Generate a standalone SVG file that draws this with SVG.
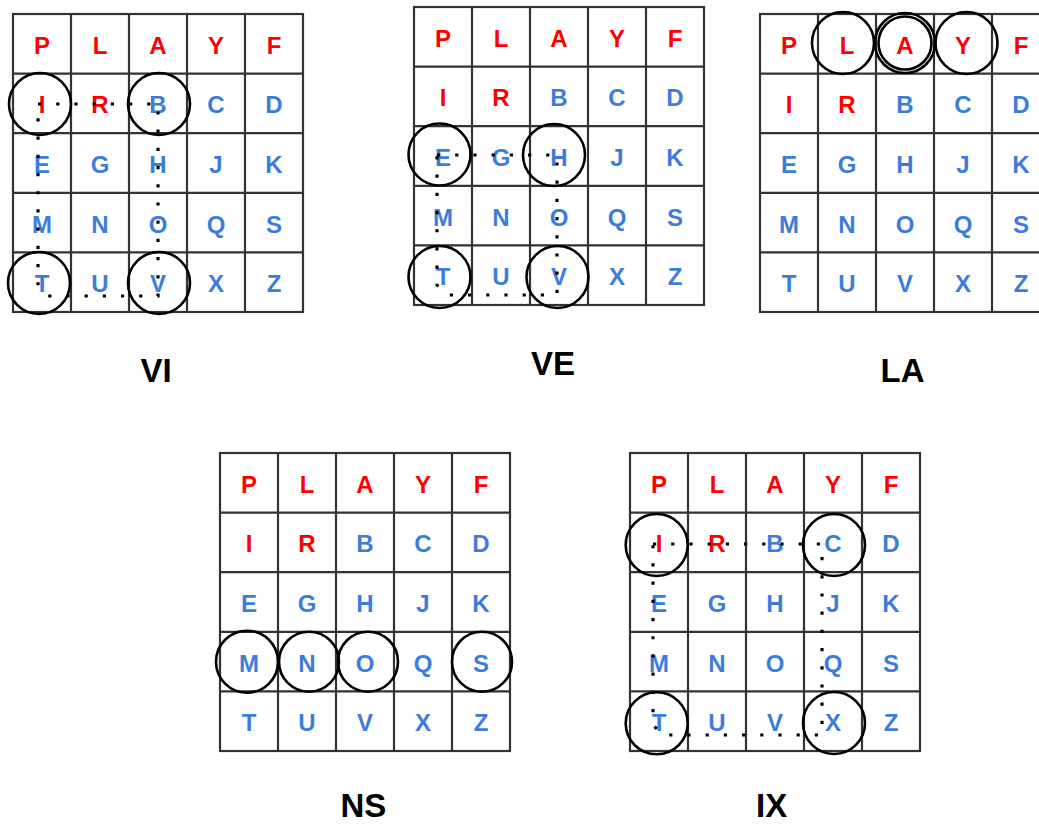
<svg xmlns="http://www.w3.org/2000/svg" width="1039" height="825" viewBox="0 0 1039 825">
<style>
.cell{fill:#fff;stroke:#333;stroke-width:2.2}
.l{font-family:"Liberation Sans",Arial,sans-serif;font-weight:bold;font-size:24px;text-anchor:middle}
.r{fill:#ff0000}
.b{fill:#3c7ddc}
.c{fill:none;stroke:#000;stroke-width:2.6}
.dot{fill:none;stroke:#000;stroke-width:3.2;stroke-dasharray:3.2 15}
.lab{font-family:"Liberation Sans",Arial,sans-serif;font-weight:bold;font-size:33px;text-anchor:middle;fill:#000}
</style>
<defs>
<g id="gridlines">
<rect class="cell" x="0" y="0" width="290" height="298"/>
<path class="cell" d="M58,0V298M116,0V298M174,0V298M232,0V298M0,59.6H290M0,119.2H290M0,178.8H290M0,238.4H290"/>
</g>
</defs>
<rect width="1039" height="825" fill="#fff"/>

<g id="grid-VI" transform="translate(13,14)">
<use href="#gridlines"/>
<g class="l">
<text class="r" x="29" y="39.8">P</text><text class="r" x="87" y="39.8">L</text><text class="r" x="145" y="39.8">A</text><text class="r" x="203" y="39.8">Y</text><text class="r" x="261" y="39.8">F</text>
<text class="r" x="29" y="99.4">I</text><text class="r" x="87" y="99.4">R</text><text class="b" x="145" y="99.4">B</text><text class="b" x="203" y="99.4">C</text><text class="b" x="261" y="99.4">D</text>
<text class="b" x="29" y="159">E</text><text class="b" x="87" y="159">G</text><text class="b" x="145" y="159">H</text><text class="b" x="203" y="159">J</text><text class="b" x="261" y="159">K</text>
<text class="b" x="29" y="218.6">M</text><text class="b" x="87" y="218.6">N</text><text class="b" x="145" y="218.6">O</text><text class="b" x="203" y="218.6">Q</text><text class="b" x="261" y="218.6">S</text>
<text class="b" x="29" y="278.2">T</text><text class="b" x="87" y="278.2">U</text><text class="b" x="145" y="278.2">V</text><text class="b" x="203" y="278.2">X</text><text class="b" x="261" y="278.2">Z</text>
</g>
<circle class="c" cx="27" cy="90" r="31"/>
<circle class="c" cx="146" cy="90" r="31"/>
<circle class="c" cx="26" cy="269" r="31"/>
<circle class="c" cx="146" cy="269" r="31"/>
</g>

<g id="grid-VE" transform="translate(414,7)">
<use href="#gridlines"/>
<g class="l">
<text class="r" x="29" y="39.8">P</text><text class="r" x="87" y="39.8">L</text><text class="r" x="145" y="39.8">A</text><text class="r" x="203" y="39.8">Y</text><text class="r" x="261" y="39.8">F</text>
<text class="r" x="29" y="99.4">I</text><text class="r" x="87" y="99.4">R</text><text class="b" x="145" y="99.4">B</text><text class="b" x="203" y="99.4">C</text><text class="b" x="261" y="99.4">D</text>
<text class="b" x="29" y="159">E</text><text class="b" x="87" y="159">G</text><text class="b" x="145" y="159">H</text><text class="b" x="203" y="159">J</text><text class="b" x="261" y="159">K</text>
<text class="b" x="29" y="218.6">M</text><text class="b" x="87" y="218.6">N</text><text class="b" x="145" y="218.6">O</text><text class="b" x="203" y="218.6">Q</text><text class="b" x="261" y="218.6">S</text>
<text class="b" x="29" y="278.2">T</text><text class="b" x="87" y="278.2">U</text><text class="b" x="145" y="278.2">V</text><text class="b" x="203" y="278.2">X</text><text class="b" x="261" y="278.2">Z</text>
</g>
<circle class="c" cx="25.5" cy="147.5" r="31"/>
<circle class="c" cx="140" cy="148" r="31"/>
<circle class="c" cx="25.5" cy="270" r="31"/>
<circle class="c" cx="143.5" cy="270" r="31"/>
</g>

<g id="grid-LA" transform="translate(760,14)">
<use href="#gridlines"/>
<g class="l">
<text class="r" x="29" y="39.8">P</text><text class="r" x="87" y="39.8">L</text><text class="r" x="145" y="39.8">A</text><text class="r" x="203" y="39.8">Y</text><text class="r" x="261" y="39.8">F</text>
<text class="r" x="29" y="99.4">I</text><text class="r" x="87" y="99.4">R</text><text class="b" x="145" y="99.4">B</text><text class="b" x="203" y="99.4">C</text><text class="b" x="261" y="99.4">D</text>
<text class="b" x="29" y="159">E</text><text class="b" x="87" y="159">G</text><text class="b" x="145" y="159">H</text><text class="b" x="203" y="159">J</text><text class="b" x="261" y="159">K</text>
<text class="b" x="29" y="218.6">M</text><text class="b" x="87" y="218.6">N</text><text class="b" x="145" y="218.6">O</text><text class="b" x="203" y="218.6">Q</text><text class="b" x="261" y="218.6">S</text>
<text class="b" x="29" y="278.2">T</text><text class="b" x="87" y="278.2">U</text><text class="b" x="145" y="278.2">V</text><text class="b" x="203" y="278.2">X</text><text class="b" x="261" y="278.2">Z</text>
</g>
<circle class="c" cx="83" cy="29" r="31"/>
<circle class="c" cx="145" cy="29" r="30"/>
<circle class="c" cx="145" cy="29" r="26.5"/>
<circle class="c" cx="206.5" cy="29" r="31"/>
</g>

<g id="grid-NS" transform="translate(220,453)">
<use href="#gridlines"/>
<g class="l">
<text class="r" x="29" y="39.8">P</text><text class="r" x="87" y="39.8">L</text><text class="r" x="145" y="39.8">A</text><text class="r" x="203" y="39.8">Y</text><text class="r" x="261" y="39.8">F</text>
<text class="r" x="29" y="99.4">I</text><text class="r" x="87" y="99.4">R</text><text class="b" x="145" y="99.4">B</text><text class="b" x="203" y="99.4">C</text><text class="b" x="261" y="99.4">D</text>
<text class="b" x="29" y="159">E</text><text class="b" x="87" y="159">G</text><text class="b" x="145" y="159">H</text><text class="b" x="203" y="159">J</text><text class="b" x="261" y="159">K</text>
<text class="b" x="29" y="218.6">M</text><text class="b" x="87" y="218.6">N</text><text class="b" x="145" y="218.6">O</text><text class="b" x="203" y="218.6">Q</text><text class="b" x="261" y="218.6">S</text>
<text class="b" x="29" y="278.2">T</text><text class="b" x="87" y="278.2">U</text><text class="b" x="145" y="278.2">V</text><text class="b" x="203" y="278.2">X</text><text class="b" x="261" y="278.2">Z</text>
</g>
<circle class="c" cx="27" cy="208.7" r="31"/>
<circle class="c" cx="89" cy="208.7" r="30"/>
<circle class="c" cx="148" cy="208.7" r="30"/>
<circle class="c" cx="262" cy="208.7" r="30"/>
</g>

<g id="grid-IX" transform="translate(630,453)">
<use href="#gridlines"/>
<g class="l">
<text class="r" x="29" y="39.8">P</text><text class="r" x="87" y="39.8">L</text><text class="r" x="145" y="39.8">A</text><text class="r" x="203" y="39.8">Y</text><text class="r" x="261" y="39.8">F</text>
<text class="r" x="29" y="99.4">I</text><text class="r" x="87" y="99.4">R</text><text class="b" x="145" y="99.4">B</text><text class="b" x="203" y="99.4">C</text><text class="b" x="261" y="99.4">D</text>
<text class="b" x="29" y="159">E</text><text class="b" x="87" y="159">G</text><text class="b" x="145" y="159">H</text><text class="b" x="203" y="159">J</text><text class="b" x="261" y="159">K</text>
<text class="b" x="29" y="218.6">M</text><text class="b" x="87" y="218.6">N</text><text class="b" x="145" y="218.6">O</text><text class="b" x="203" y="218.6">Q</text><text class="b" x="261" y="218.6">S</text>
<text class="b" x="29" y="278.2">T</text><text class="b" x="87" y="278.2">U</text><text class="b" x="145" y="278.2">V</text><text class="b" x="203" y="278.2">X</text><text class="b" x="261" y="278.2">Z</text>
</g>
<circle class="c" cx="26.7" cy="92" r="31"/>
<circle class="c" cx="204" cy="92" r="31"/>
<circle class="c" cx="26.7" cy="270.3" r="31"/>
<circle class="c" cx="204" cy="270" r="31"/>
</g>

<g id="connectors">
<path class="dot" d="M38,104H158V296H48L38,286Z"/>
<path class="dot" d="M437,155H557V295H447L437,285Z"/>
<path class="dot" d="M653,544H822V735H663L653,725Z"/>
</g>

<g id="labels">
<text class="lab" x="156" y="382">VI</text>
<text class="lab" x="553" y="374.5">VE</text>
<text class="lab" x="902.5" y="382">LA</text>
<text class="lab" x="363.3" y="817">NS</text>
<text class="lab" x="771.7" y="817">IX</text>
</g>
</svg>
